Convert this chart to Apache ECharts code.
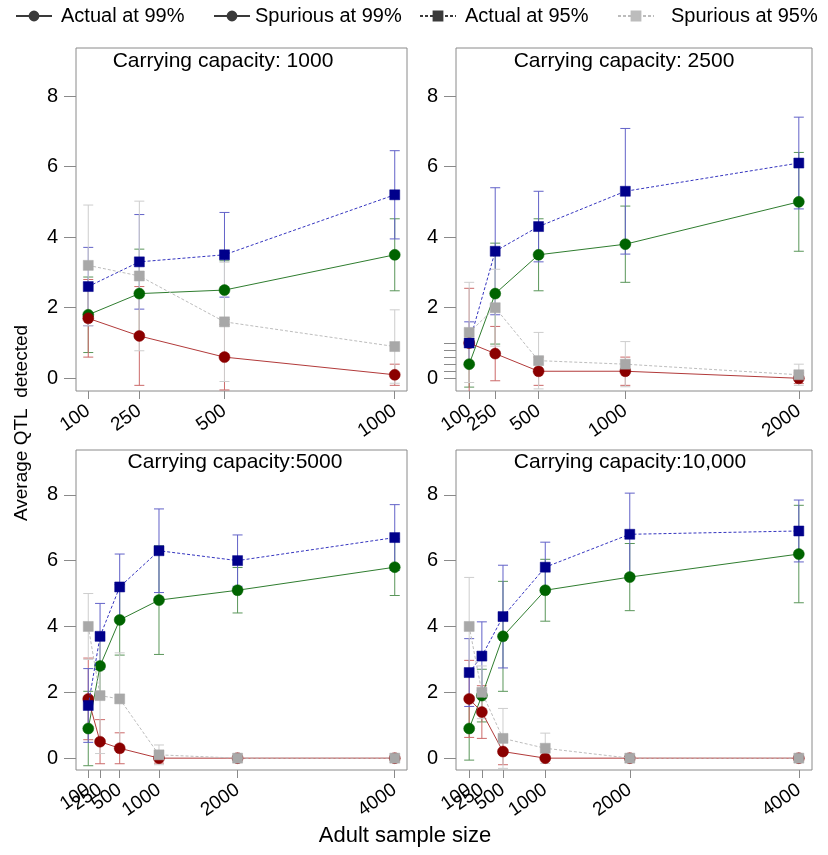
<!DOCTYPE html>
<html>
<head>
<meta charset="utf-8">
<title>Average QTL detected</title>
<script src="https://cdn.jsdelivr.net/npm/echarts@6/dist/echarts.min.js"></script>
<style>
  html, body { margin: 0; padding: 0; background: #fff; }
  #chart { width: 828px; height: 855px; }
</style>
</head>
<body>
<div id="chart"></div>
<script>
// sample sizes per panel
var sizesK1000 = [100, 250, 500, 1000];
var sizesK2500 = [100, 250, 500, 1000, 2000];
var sizesK5000 = [100, 250, 500, 1000, 2000, 4000];
var sizesK10000 = [100, 250, 500, 1000, 2000, 4000];

// tick labels; 1000 is listed first so echarts' min/max label check
// doesn't drop the crowded 100 / 250 pair
var ticksK1000 = [100, 250, 500, 1000];
var ticksK2500 = [1000, 100, 250, 500, 2000];
var ticksK5000 = [1000, 100, 250, 500, 2000, 4000];
var yTicks = [0, 2, 4, 6, 8];

// carrying capacity 1000
var act99K1000 = [1.8, 2.4, 2.5, 3.5];
var act99errK1000 = [1.07, 1.26, 0.83, 1.02];
var spu99K1000 = [1.7, 1.2, 0.6, 0.1];
var spu99errK1000 = [1.1, 1.4, 0.93, 0.3];
var act95K1000 = [2.6, 3.3, 3.5, 5.2];
var act95errK1000 = [1.11, 1.34, 1.2, 1.25];
var spu95K1000 = [3.2, 2.9, 1.6, 0.9];
var spu95errK1000 = [1.71, 2.12, 1.69, 1.04];

// carrying capacity 2500
var act99K2500 = [0.4, 2.4, 3.5, 3.8, 5.0];
var act99errK2500 = [0.65, 1.43, 1.02, 1.08, 1.4];
var spu99K2500 = [1.0, 0.7, 0.2, 0.2, 0.0];
var spu99errK2500 = [1.55, 0.77, 0.4, 0.4, 0.15];
var act95K2500 = [1.0, 3.6, 4.3, 5.3, 6.1];
var act95errK2500 = [0.6, 1.8, 1.0, 1.78, 1.3];
var spu95K2500 = [1.3, 2.0, 0.5, 0.4, 0.1];
var spu95errK2500 = [1.42, 1.09, 0.8, 0.64, 0.3];

// carrying capacity 5000
var act99K5000 = [0.9, 2.8, 4.2, 4.8, 5.1, 5.8];
var act99errK5000 = [1.13, 1.0, 1.07, 1.65, 0.69, 0.86];
var spu99K5000 = [1.8, 0.5, 0.3, 0, 0, 0];
var spu99errK5000 = [1.24, 0.67, 0.47, 0.15, 0, 0];
var act95K5000 = [1.6, 3.7, 5.2, 6.3, 6.0, 6.7];
var act95errK5000 = [1.12, 1.0, 1.0, 1.27, 0.78, 1.0];
var spu95K5000 = [4.0, 1.9, 1.8, 0.1, 0, 0];
var spu95errK5000 = [1.0, 1.76, 1.4, 0.3, 0, 0];

// carrying capacity 10,000
var act99K10000 = [0.9, 1.9, 3.7, 5.1, 5.5, 6.2];
var act99errK10000 = [0.96, 0.8, 1.67, 0.94, 1.02, 1.48];
var spu99K10000 = [1.8, 1.4, 0.2, 0, 0, 0];
var spu99errK10000 = [1.17, 0.8, 0.4, 0, 0, 0];
var act95K10000 = [2.6, 3.1, 4.3, 5.8, 6.8, 6.9];
var act95errK10000 = [1.03, 1.04, 1.56, 0.76, 1.25, 0.94];
var spu95K10000 = [4.0, 2.0, 0.6, 0.3, 0, 0];
var spu95errK10000 = [1.49, 0.8, 0.91, 0.46, 0, 0];

var FONT = 'Liberation Sans';
var BOX = '#8a8a8a';

var S = {
  act99: {name: 'Actual at 99%', mark: '#006400', line: '#2f7d2f', err: '#5a965a', symbol: 'circle', size: 11, dash: 'solid'},
  spu99: {name: 'Spurious at 99%', mark: '#8b0000', line: '#b23a3a', err: '#cc6a6a', symbol: 'circle', size: 11, dash: 'solid'},
  act95: {name: 'Actual at 95%', mark: '#00008b', line: '#3535c0', err: '#6262c8', symbol: 'rect', size: 10, dash: [3, 2]},
  spu95: {name: 'Spurious at 95%', mark: '#a8a8a8', line: '#bdbdbd', err: '#cdcdcd', symbol: 'rect', size: 10, dash: [3, 2]}
};

var panels = [
  {xs: sizesK1000, ticks: ticksK1000, min: 64, max: 1036,
   act99: act99K1000, act99e: act99errK1000, spu99: spu99K1000, spu99e: spu99errK1000,
   act95: act95K1000, act95e: act95errK1000, spu95: spu95K1000, spu95e: spu95errK1000},
  {xs: sizesK2500, ticks: ticksK2500, min: 24, max: 2076,
   act99: act99K2500, act99e: act99errK2500, spu99: spu99K2500, spu99e: spu99errK2500,
   act95: act95K2500, act95e: act95errK2500, spu95: spu95K2500, spu95e: spu95errK2500},
  {xs: sizesK5000, ticks: ticksK5000, min: -56, max: 4156,
   act99: act99K5000, act99e: act99errK5000, spu99: spu99K5000, spu99e: spu99errK5000,
   act95: act95K5000, act95e: act95errK5000, spu95: spu95K5000, spu95e: spu95errK5000},
  {xs: sizesK10000, ticks: ticksK5000, min: -56, max: 4156,
   act99: act99K10000, act99e: act99errK10000, spu99: spu99K10000, spu99e: spu99errK10000,
   act95: act95K10000, act95e: act95errK10000, spu95: spu95K10000, spu95e: spu95errK10000}
];

var grids = [
  {left: 76, top: 48, width: 331, height: 343},
  {left: 456, top: 48, width: 356, height: 343},
  {left: 76, top: 450, width: 331, height: 320},
  {left: 456, top: 450, width: 356, height: 320}
];
grids.forEach(function(g){
  g.show = true;
  g.borderColor = BOX;
  g.borderWidth = 1;
  g.backgroundColor = 'transparent';
  g.containLabel = false;
  g.outerBoundsMode = 'none';
});

var xAxes = [], yAxes = [], series = [];

panels.forEach(function(p, i){
  xAxes.push({
    type: 'value', gridIndex: i, min: p.min, max: p.max, position: 'bottom',
    axisLine: {show: false, onZero: false},
    splitLine: {show: false},
    axisTick: {show: true, length: 8, lineStyle: {color: BOX}, customValues: p.ticks},
    axisLabel: {rotate: 35, margin: 18, fontSize: 19, color: '#000', fontFamily: FONT,
      hideOverlap: false, customValues: p.ticks,
      formatter: function(v){ return String(v); }}
  });
  yAxes.push({
    type: 'value', gridIndex: i, min: -0.36, max: 9.36, position: 'left',
    axisLine: {show: false, onZero: false},
    splitLine: {show: false},
    axisTick: {show: true, length: 12, lineStyle: {color: BOX}, customValues: yTicks},
    axisLabel: {margin: 18, fontSize: 20, color: '#000', fontFamily: FONT, customValues: yTicks}
  });
});

// stray short ticks on the second panel's left side
yAxes.push({
  type: 'value', gridIndex: 1, min: -0.36, max: 9.36, position: 'left', offset: 0,
  axisLine: {show: false, onZero: false},
  splitLine: {show: false},
  axisTick: {show: true, length: 12, lineStyle: {color: BOX}, customValues: [0.2, 0.4, 0.6, 0.8, 1.0]},
  axisLabel: {show: false}
});

function errSeries(i, xs, ys, es, st){
  var d = [];
  xs.forEach(function(x, j){
    if(es[j] > 0) d.push([x, ys[j] - es[j], ys[j] + es[j]]);
  });
  return {
    type: 'custom', name: st.name + ' err', xAxisIndex: i, yAxisIndex: i,
    clip: true, z: 1, silent: true,
    encode: {x: 0, y: [1, 2]},
    data: d,
    renderItem: function(params, api){
      var hi = api.coord([api.value(0), api.value(2)]);
      var lo = api.coord([api.value(0), api.value(1)]);
      var w = 5, sty = {stroke: st.err, lineWidth: 1};
      return {type: 'group', children: [
        {type: 'line', shape: {x1: hi[0], y1: hi[1], x2: lo[0], y2: lo[1]}, style: sty},
        {type: 'line', shape: {x1: hi[0] - w, y1: hi[1], x2: hi[0] + w, y2: hi[1]}, style: sty},
        {type: 'line', shape: {x1: lo[0] - w, y1: lo[1], x2: lo[0] + w, y2: lo[1]}, style: sty}
      ]};
    }
  };
}

function lineSeries(i, xs, ys, st, z){
  return {
    type: 'line', name: st.name, xAxisIndex: i, yAxisIndex: i, z: z,
    symbol: st.symbol, symbolSize: st.size, showSymbol: true,
    itemStyle: {color: st.mark, borderColor: st.mark, borderWidth: 0.5, opacity: 1},
    lineStyle: {color: st.line, width: 1, type: st.dash},
    data: xs.map(function(x, j){ return [x, ys[j]]; })
  };
}

panels.forEach(function(p, i){
  ['act99', 'spu99', 'act95', 'spu95'].forEach(function(k){
    series.push(errSeries(i, p.xs, p[k], p[k + 'e'], S[k]));
  });
  ['act99', 'spu99', 'act95', 'spu95'].forEach(function(k, n){
    series.push(lineSeries(i, p.xs, p[k], S[k], 3 + n));
  });
});

// legend, one block per entry so each sits where the original put it
var legendDefs = [
  {key: 'act99', left: 15, pad: 4, col: '#3a3a3a'},
  {key: 'spu99', left: 213, pad: 0, col: '#3a3a3a'},
  {key: 'act95', left: 419, pad: 4, col: '#3a3a3a'},
  {key: 'spu95', left: 617, pad: 12, col: '#bcbcbc'}
];
var legends = legendDefs.map(function(l){
  return {
    left: l.left, top: 6, orient: 'horizontal', padding: 0,
    itemWidth: 36, itemHeight: 11, selectedMode: false,
    textStyle: {fontSize: 20, color: '#000', fontFamily: FONT, padding: [0, 0, 0, l.pad]},
    data: [{name: S[l.key].name, itemStyle: {color: l.col, borderColor: l.col}, lineStyle: {color: l.col}}]
  };
});

var titles = [
  {x: 223, y: 61, t: 'Carrying capacity: 1000'},
  {x: 624, y: 61, t: 'Carrying capacity: 2500'},
  {x: 235, y: 462, t: 'Carrying capacity:5000'},
  {x: 630, y: 462, t: 'Carrying capacity:10,000'}
];
var graphic = titles.map(function(tt){
  return {type: 'text', x: tt.x, y: tt.y, z: 20,
    style: {text: tt.t, fill: '#000', font: '21px "' + FONT + '"', textAlign: 'center', textVerticalAlign: 'middle'}};
});
graphic.push({type: 'text', x: 22, y: 423, rotation: Math.PI / 2, z: 20,
  style: {text: 'Average QTL  detected', fill: '#000', font: '19px "' + FONT + '"', textAlign: 'center', textVerticalAlign: 'middle'}});
graphic.push({type: 'text', x: 405, y: 836, z: 20,
  style: {text: 'Adult sample size', fill: '#000', font: '22px "' + FONT + '"', textAlign: 'center', textVerticalAlign: 'middle'}});

var chart = echarts.init(document.getElementById('chart'), null, {renderer: 'canvas'});
chart.setOption({
  animation: false,
  backgroundColor: '#fff',
  legend: legends,
  grid: grids,
  xAxis: xAxes,
  yAxis: yAxes,
  series: series,
  graphic: graphic
});
</script>
</body>
</html>
